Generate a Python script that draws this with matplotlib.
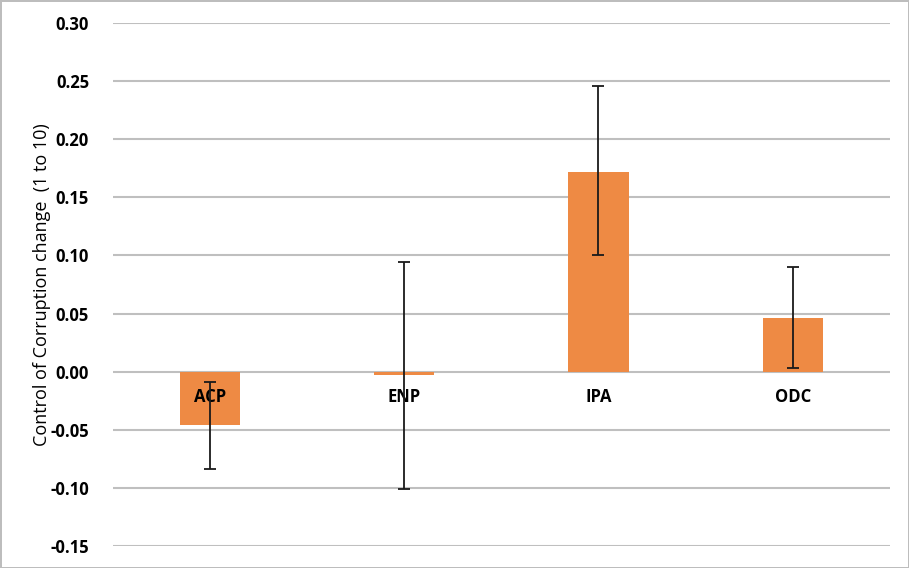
import matplotlib.pyplot as plt
import numpy as np

# data
groups = ['ACP', 'ENP', 'IPA', 'ODC']
change = [-0.046, -0.003, 0.172, 0.046]
err_low = [0.038, 0.098, 0.072, 0.043]
err_high = [0.037, 0.097, 0.074, 0.044]
y_ticks = [-0.15, -0.10, -0.05, 0.00, 0.05, 0.10, 0.15, 0.20, 0.25, 0.30]

plt.rcParams['font.family'] = ['Open Sans', 'DejaVu Sans']

fig = plt.figure(figsize=(9.09, 5.68), dpi=100)
fig.patch.set_edgecolor('#bdbdbd')
fig.patch.set_linewidth(2)
ax = fig.add_axes([0.124, 0.0387, 0.855, 0.9208])

x = np.arange(len(groups))
ax.bar(x, change, width=0.31, color='#EE8A44', zorder=2)
ax.errorbar(x, change, yerr=[err_low, err_high], fmt='none', ecolor='#1a1a1a',
            elinewidth=1.3, capsize=4, capthick=1.3, zorder=3)

ax.set_xlim(-0.5, 3.5)
ax.set_ylim(-0.15, 0.30)
ax.set_yticks(y_ticks)
ax.set_yticklabels(['%.2f' % v for v in y_ticks], fontsize=12, fontweight='bold')
ax.yaxis.grid(True, color='#bfbfbf', linewidth=1.5, zorder=0)
ax.set_axisbelow(True)
ax.tick_params(axis='y', length=0, pad=17)

# category labels sit just under the zero line, over the bars
ax.set_xticks([])
for xi, g in zip(x, groups):
    ax.text(xi, -0.0215, g, ha='center', va='center', fontsize=12,
            fontweight='bold', zorder=2.5)
for s in ax.spines.values():
    s.set_visible(False)

ax.set_ylabel('Control of Corruption change  (1 to 10)', fontsize=13)
ax.yaxis.set_label_coords(-0.079, 0.5)

plt.savefig('out.png', dpi=100)
